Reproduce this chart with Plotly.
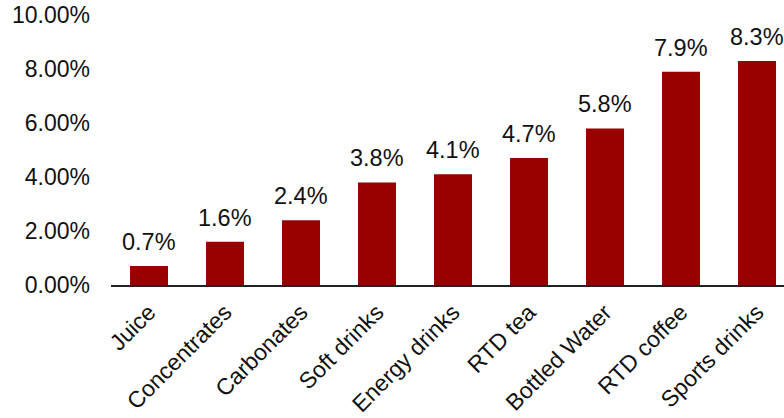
import plotly.graph_objects as go

categories = ["Juice", "Concentrates", "Carbonates", "Soft drinks", "Energy drinks",
              "RTD tea", "Bottled Water", "RTD coffee", "Sports drinks"]
growth = [0.7, 1.6, 2.4, 3.8, 4.1, 4.7, 5.8, 7.9, 8.3]  # percent
y_ticks = [0, 2, 4, 6, 8, 10]

FONT = "Liberation Sans, Arial, sans-serif"
BAR = "#990000"
INK = "#111111"

fig = go.Figure(go.Bar(
    x=categories,
    y=[v / 100 for v in growth],
    marker=dict(color=BAR, line=dict(width=0)),
    width=0.5,
    hoverinfo="skip",
))

for c, v in zip(categories, growth):
    fig.add_annotation(
        x=c, y=v / 100, text=f"{v:.1f}%", showarrow=False,
        yanchor="bottom", yshift=9,
        font=dict(family=FONT, size=23.5, color=INK),
    )

fig.update_layout(
    width=784, height=418,
    margin=dict(l=111, r=0, t=15, b=133),
    paper_bgcolor="white", plot_bgcolor="white",
    showlegend=False,
    font=dict(family=FONT, size=23, color=INK),
)
fig.update_xaxes(
    range=[-0.5, 8.355],
    tickangle=-45,
    automargin=False,
    showline=True, linecolor="#222222", linewidth=1.5,
    showgrid=False, ticks="", zeroline=False,
    ticklabelstandoff=3,
    tickfont=dict(family=FONT, size=23, color=INK),
)
fig.update_yaxes(
    range=[0, 0.10],
    automargin=False,
    tickvals=[t / 100 for t in y_ticks],
    ticktext=[f"{t:.2f}%" for t in y_ticks],
    showline=False, showgrid=False, zeroline=False, ticks="",
    ticklabelstandoff=20,
    tickfont=dict(family=FONT, size=23, color=INK),
)

fig.write_html("out.html")
